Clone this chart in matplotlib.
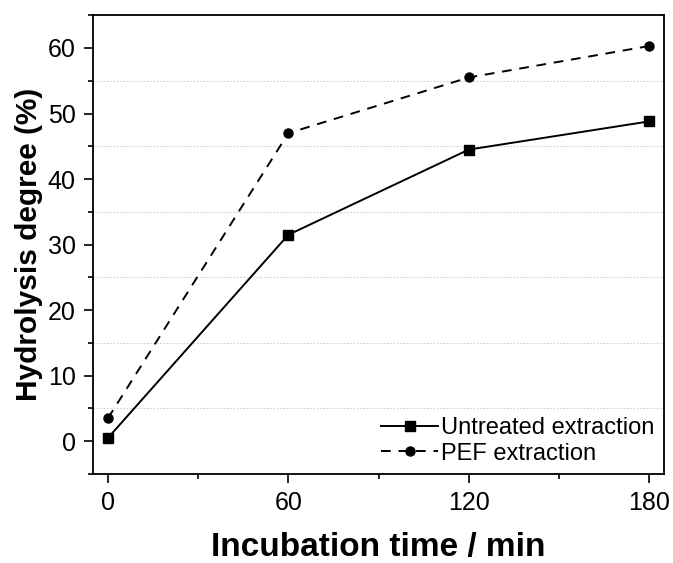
import matplotlib
matplotlib.use("Agg")
import matplotlib.pyplot as plt
from matplotlib.ticker import MultipleLocator

plt.rcParams['font.family'] = ['Liberation Sans', 'DejaVu Sans']

time_min = [0, 60, 120, 180]
untreated = [0.5, 31.5, 44.5, 48.8]
pef = [3.5, 47.0, 55.5, 60.3]

fig = plt.figure(figsize=(6.73, 5.63), dpi=100)
ax = fig.add_axes([0.138, 0.158, 0.849, 0.815])

ax.plot(time_min, untreated, color="k", ls="-", marker="s", markersize=6.5, lw=1.4,
        label="Untreated extraction")
ax.plot(time_min, pef, color="k", ls=(0, (5, 4)), marker="o", markersize=6.5, lw=1.4,
        label="PEF extraction")

ax.set_xlim(-5, 185)
ax.set_ylim(-5, 65)
ax.xaxis.set_major_locator(MultipleLocator(60))
ax.xaxis.set_minor_locator(MultipleLocator(30))
ax.yaxis.set_major_locator(MultipleLocator(10))
ax.yaxis.set_minor_locator(MultipleLocator(5))
ax.set_yticks([0, 10, 20, 30, 40, 50, 60])

# dotted grid on the minor (odd 5) y positions
ax.grid(axis="y", which="minor", color="#d0d0d0", linestyle=(0, (1.5, 1.5)), lw=0.8)
ax.set_axisbelow(True)

ax.tick_params(which="major", direction="out", length=6.5, width=1.2, labelsize=18, pad=6)
ax.tick_params(which="minor", direction="out", length=3.5, width=1.2)
for s in ax.spines.values():
    s.set_linewidth(1.3)

ax.set_xlabel("Incubation time / min", fontsize=24, fontweight="bold", labelpad=12)
ax.set_ylabel("Hydrolysis degree (%)", fontsize=21.5, fontweight="bold", labelpad=3)

ax.legend(loc="lower right", frameon=False, fontsize=17, handlelength=2.4,
          handletextpad=0.15, labelspacing=0.15, borderpad=0.1, borderaxespad=0.3)

fig.savefig("out.png", dpi=100)
